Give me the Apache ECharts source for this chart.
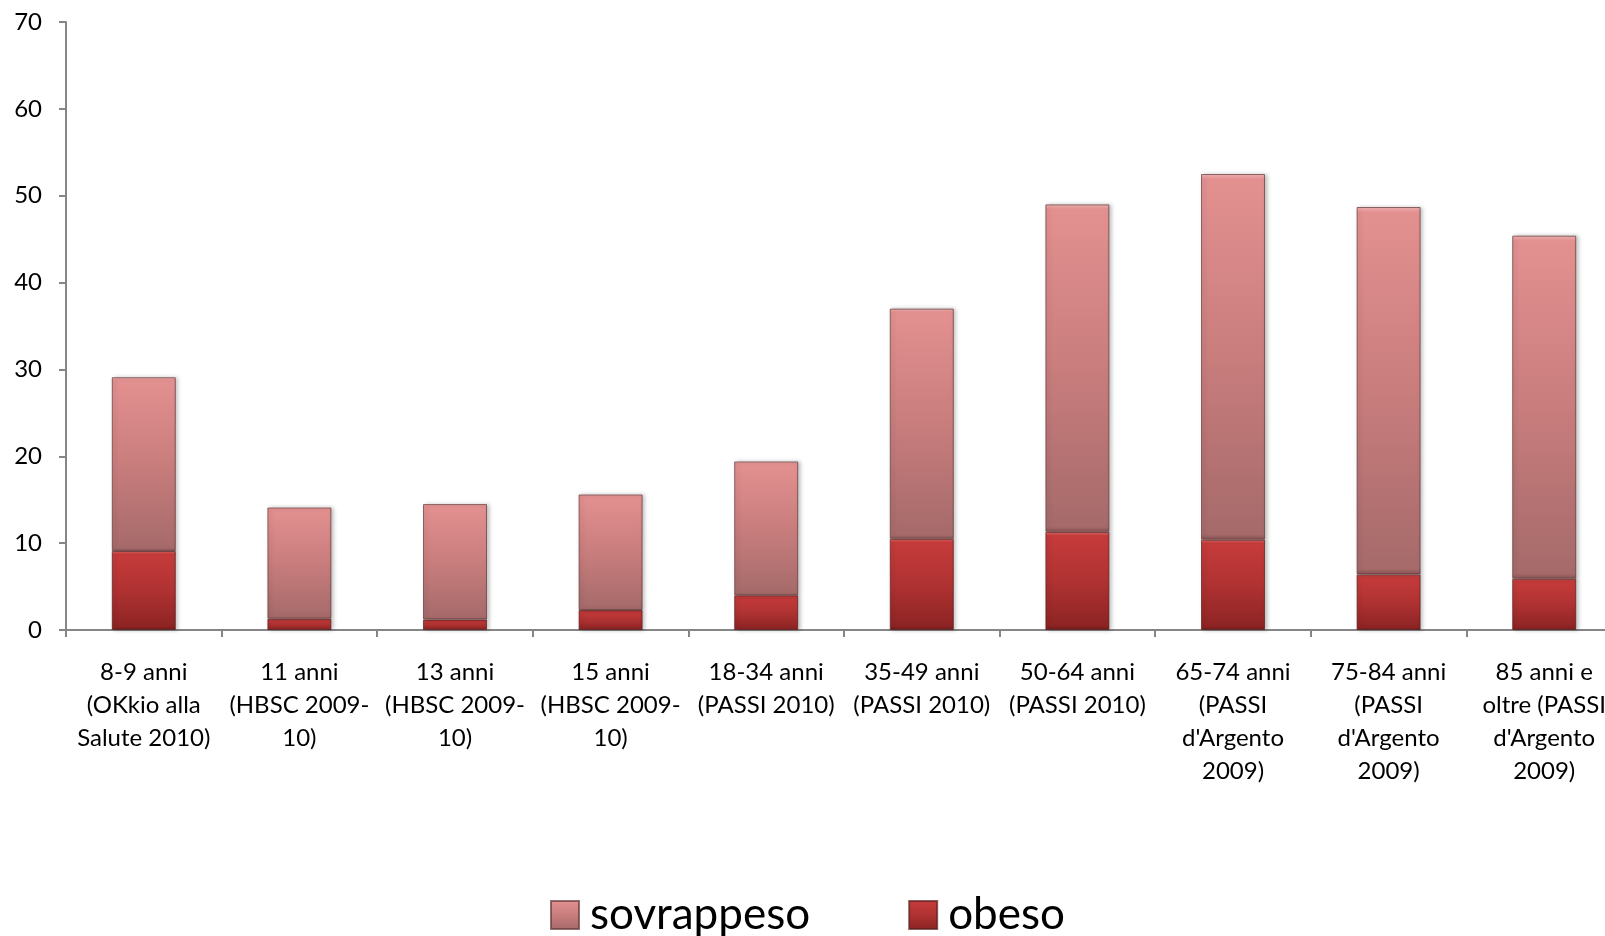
<!DOCTYPE html>
<html>
<head>
<meta charset="utf-8">
<script src="https://cdn.jsdelivr.net/npm/echarts@6/dist/echarts.min.js"></script>
<style>html,body{margin:0;padding:0;background:#fff;overflow:hidden;}#c{width:1640px;height:936px;}</style>
</head>
<body>
<div id="c"></div>
<script>
var categories = [
  "8-9 anni\n(OKkio alla\nSalute 2010)",
  "11 anni\n(HBSC 2009-\n10)",
  "13 anni\n(HBSC 2009-\n10)",
  "15 anni\n(HBSC 2009-\n10)",
  "18-34 anni\n(PASSI 2010)",
  "35-49 anni\n(PASSI 2010)",
  "50-64 anni\n(PASSI 2010)",
  "65-74 anni\n(PASSI\nd'Argento\n2009)",
  "75-84 anni\n(PASSI\nd'Argento\n2009)",
  "85 anni e\noltre (PASSI\nd'Argento\n2009)"
];
var obeso = [9.1, 1.3, 1.2, 2.3, 4.0, 10.5, 11.3, 10.4, 6.4, 5.9];
var sovrappeso = [20.0, 12.8, 13.3, 13.3, 15.4, 26.5, 37.7, 42.1, 42.3, 39.5];
var yTicks = [0, 10, 20, 30, 40, 50, 60, 70];

var FONT = 'Lato, "Open Sans", sans-serif';
var chart = echarts.init(document.getElementById('c'));

function grad(stops) {
  return new echarts.graphic.LinearGradient(0, 0, 0, 1, stops.map(function (s) { return { offset: s[0], color: s[1] }; }));
}
var pinkGrad = grad([[0, '#F4B4B4'], [0.015, '#E39090'], [0.5, '#C97D7D'], [0.985, '#A66A6A'], [1, '#8A5555']]);
var redGrad = grad([[0, '#F07070'], [0.04, '#C63B3B'], [0.5, '#B03232'], [0.96, '#8E2424'], [1, '#6E1A1A']]);

chart.setOption({
  animation: false,
  backgroundColor: '#fff',
  grid: { left: 66, top: 22, width: 1556, height: 608, containLabel: false },
  legend: {
    data: ['sovrappeso', 'obeso'],
    left: 545,
    top: 885,
    itemWidth: 28,
    itemHeight: 28,
    itemGap: 98,
    icon: 'rect',
    textStyle: { fontFamily: FONT, fontSize: 44, lineHeight: 50, color: '#000', padding: [0, 0, 0, 6] }
  },
  xAxis: {
    type: 'category',
    data: categories,
    axisLine: { lineStyle: { color: '#868686', width: 2 } },
    axisTick: { show: true, length: 7, lineStyle: { color: '#868686', width: 2 }, alignWithLabel: false },
    axisLabel: { interval: 0, margin: 26, fontFamily: FONT, fontSize: 24, lineHeight: 33, color: '#000', align: 'center' }
  },
  yAxis: {
    type: 'value',
    min: yTicks[0],
    max: yTicks[yTicks.length - 1],
    interval: 10,
    splitLine: { show: false },
    axisLine: { show: true, lineStyle: { color: '#868686', width: 2 } },
    axisTick: { show: true, length: 7, lineStyle: { color: '#868686', width: 2 } },
    axisLabel: { margin: 24, fontFamily: FONT, fontSize: 24, color: '#000' }
  },
  series: [
    {
      name: 'obeso', type: 'bar', stack: 'tot', barWidth: 64, data: obeso,
      itemStyle: { color: redGrad, borderColor: 'rgba(90,30,30,0.7)', borderWidth: 1, shadowColor: 'rgba(0,0,0,0.25)', shadowBlur: 4, shadowOffsetX: 2 }
    },
    {
      name: 'sovrappeso', type: 'bar', stack: 'tot', barWidth: 64, data: sovrappeso,
      itemStyle: { color: pinkGrad, borderColor: 'rgba(100,55,55,0.7)', borderWidth: 1, shadowColor: 'rgba(0,0,0,0.25)', shadowBlur: 4, shadowOffsetX: 2 }
    }
  ]
});
</script>
</body>
</html>
